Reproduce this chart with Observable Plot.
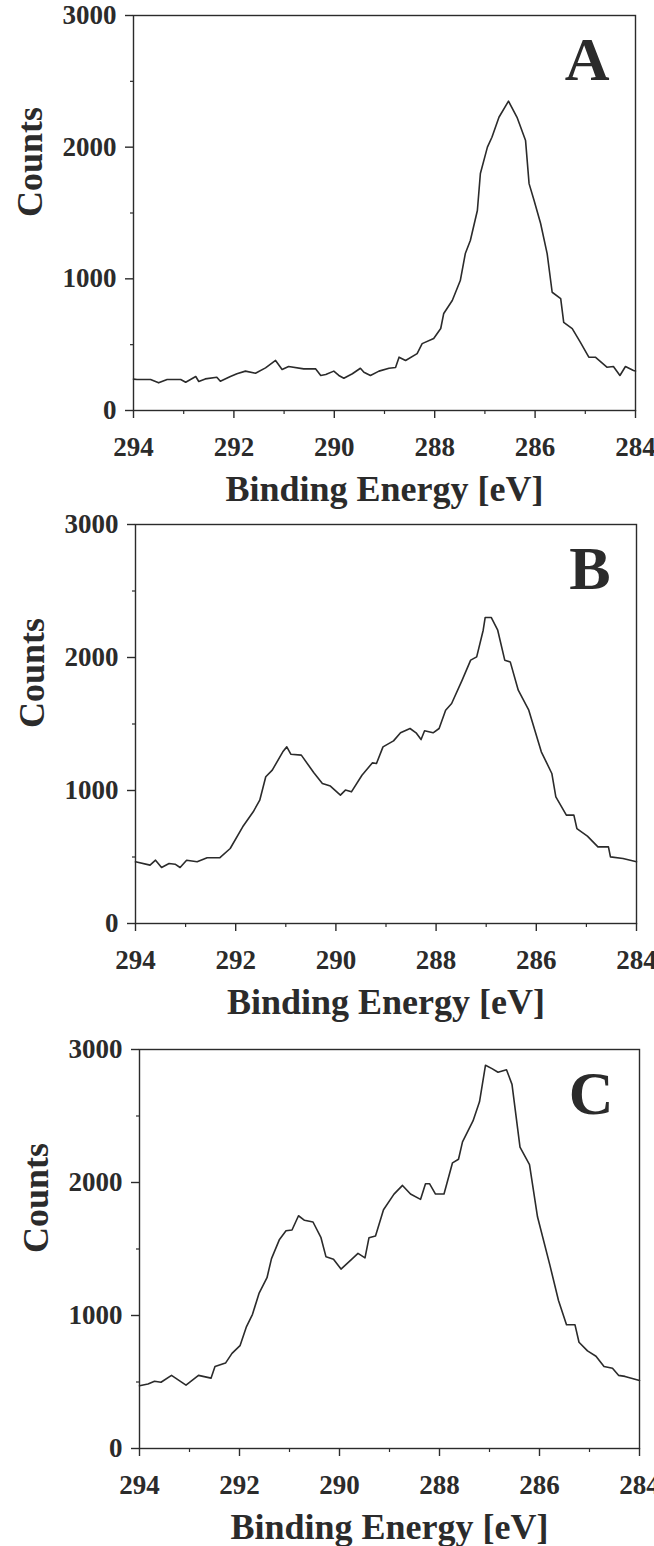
<!DOCTYPE html>
<html>
<head>
<meta charset="utf-8">
<script src="https://cdn.jsdelivr.net/npm/d3@7"></script>
<script src="https://cdn.jsdelivr.net/npm/@observablehq/plot@0.6"></script>
<style>
  html, body { margin: 0; padding: 0; background: white; }
  #chart svg { display: block; }
</style>
</head>
<body>
<div id="chart"></div>
<script>
// ---- Data ----
const xTicks = [294, 292, 290, 288, 286, 284];
const xMinorTicks = [293, 291, 289, 287, 285];
const yTicks = [0, 1000, 2000, 3000];
const yMinorTicks = [500, 1500, 2500];
const panelLetters = ["A", "B", "C"];
const xLabel = "Binding Energy [eV]";
const yLabel = "Counts";

const energyA = [294.0, 293.93, 293.66, 293.5, 293.33, 293.06, 292.96, 292.76, 292.7, 292.57, 292.34, 292.27, 292.07, 291.94, 291.77, 291.57, 291.37, 291.17, 291.04, 290.91, 290.61, 290.37, 290.27, 290.17, 290.01, 289.91, 289.81, 289.64, 289.48, 289.41, 289.28, 289.11, 288.91, 288.78, 288.71, 288.58, 288.35, 288.25, 288.02, 287.88, 287.82, 287.65, 287.49, 287.39, 287.29, 287.15, 287.09, 286.95, 286.86, 286.72, 286.53, 286.36, 286.19, 286.12, 286.02, 285.89, 285.76, 285.66, 285.49, 285.43, 285.26, 285.1, 284.93, 284.8, 284.57, 284.44, 284.31, 284.2, 284.04, 284.0];
const countsA = [238, 235, 235, 210, 235, 235, 215, 258, 220, 240, 253, 222, 258, 279, 299, 283, 324, 380, 311, 334, 316, 316, 266, 273, 299, 266, 245, 279, 321, 291, 266, 299, 321, 327, 405, 380, 432, 508, 547, 623, 737, 835, 987, 1192, 1291, 1519, 1800, 2000, 2075, 2227, 2349, 2227, 2050, 1723, 1595, 1420, 1192, 898, 850, 670, 622, 519, 405, 405, 329, 334, 266, 334, 304, 300];

const energyB = [294.0, 293.71, 293.6, 293.48, 293.33, 293.21, 293.11, 292.98, 292.77, 292.57, 292.32, 292.11, 291.86, 291.65, 291.52, 291.4, 291.27, 291.06, 290.98, 290.9, 290.69, 290.44, 290.27, 290.11, 289.91, 289.81, 289.69, 289.48, 289.27, 289.19, 289.06, 288.85, 288.71, 288.52, 288.4, 288.3, 288.23, 288.06, 287.94, 287.81, 287.69, 287.48, 287.31, 287.19, 287.06, 287.02, 286.9, 286.77, 286.63, 286.52, 286.36, 286.15, 285.9, 285.69, 285.61, 285.4, 285.25, 285.19, 284.98, 284.77, 284.56, 284.52, 284.27, 284.0];
const countsB = [464, 439, 476, 421, 451, 446, 421, 476, 464, 494, 494, 564, 727, 840, 927, 1103, 1153, 1291, 1328, 1273, 1266, 1133, 1053, 1033, 965, 1003, 990, 1115, 1208, 1203, 1328, 1373, 1434, 1466, 1434, 1383, 1449, 1434, 1466, 1604, 1654, 1830, 1980, 2005, 2205, 2301, 2301, 2205, 1980, 1967, 1754, 1604, 1291, 1128, 952, 815, 815, 714, 657, 576, 576, 501, 489, 464];

const energyC = [294.0, 293.83, 293.7, 293.57, 293.36, 293.07, 292.82, 292.57, 292.49, 292.28, 292.15, 291.99, 291.86, 291.74, 291.61, 291.45, 291.36, 291.2, 291.07, 290.95, 290.82, 290.7, 290.53, 290.37, 290.27, 290.12, 289.97, 289.78, 289.63, 289.49, 289.41, 289.28, 289.12, 288.91, 288.74, 288.58, 288.38, 288.28, 288.2, 288.08, 287.91, 287.74, 287.62, 287.54, 287.33, 287.2, 287.08, 286.95, 286.83, 286.66, 286.55, 286.39, 286.2, 286.04, 285.79, 285.62, 285.46, 285.29, 285.21, 285.04, 284.87, 284.71, 284.54, 284.42, 284.29, 284.0];
const countsC = [472, 485, 506, 498, 550, 477, 550, 529, 616, 642, 715, 773, 917, 1009, 1166, 1284, 1428, 1572, 1637, 1643, 1750, 1716, 1703, 1585, 1441, 1423, 1349, 1415, 1467, 1433, 1585, 1598, 1795, 1913, 1978, 1913, 1873, 1991, 1991, 1913, 1913, 2148, 2175, 2305, 2463, 2607, 2882, 2856, 2829, 2848, 2738, 2266, 2135, 1742, 1375, 1113, 930, 930, 799, 734, 694, 616, 603, 550, 542, 511];

// ---- Drawing ----
const ink = "#2b2b2b";
const font = "'Liberation Serif', 'Times New Roman', serif";

function panel(energy, counts, letter, m) {
  const data = energy.map((e, i) => ({e, c: counts[i]}));
  return Plot.plot({
    width: 654,
    height: m.height,
    marginTop: m.top,
    marginBottom: m.bottom,
    marginLeft: m.left,
    marginRight: m.right,
    x: {domain: [294, 284]},
    y: {domain: [0, 3000]},
    style: {fontFamily: font, background: "white", color: ink, overflow: "visible"},
    marks: [
      Plot.axisX({ticks: xTicks, tickSize: 8, tickPadding: 18, tickFormat: d => String(d), fontSize: 27, fontWeight: "bold", label: null, strokeWidth: 1.4}),
      Plot.axisX({ticks: xMinorTicks, tickSize: 4, tickFormat: () => "", label: null, strokeWidth: 1.2}),
      Plot.axisY({ticks: yTicks, tickSize: 8, tickPadding: 9, tickFormat: d => String(d), fontSize: 27, fontWeight: "bold", label: null, strokeWidth: 1.4}),
      Plot.axisY({ticks: yMinorTicks, tickSize: 3, tickFormat: () => "", label: null, strokeWidth: 1.2}),
      Plot.frame({stroke: ink, strokeWidth: 1.4}),
      Plot.line(data, {x: "e", y: "c", stroke: ink, strokeWidth: 1.6}),
      Plot.text([letter], {frameAnchor: "top-right", lineAnchor: "top", dx: -26, dy: 20, fontSize: 62, fontWeight: "bold", fill: ink}),
      Plot.text([xLabel], {frameAnchor: "bottom", lineAnchor: "bottom", dy: 90, fontSize: 36, fontWeight: "bold", fill: ink}),
      Plot.text([yLabel], {frameAnchor: "left", lineAnchor: "middle", rotate: -90, dx: -103, dy: 4, fontSize: 36, fontWeight: "bold", fill: ink})
    ]
  });
}

const chart = document.getElementById("chart");
chart.append(panel(energyA, countsA, panelLetters[0], {height: 512, top: 15, bottom: 102, left: 133, right: 19}));
chart.append(panel(energyB, countsB, panelLetters[1], {height: 518, top: 12, bottom: 107, left: 135, right: 18}));
chart.append(panel(energyC, countsC, panelLetters[2], {height: 516, top: 19, bottom: 98, left: 139, right: 15}));
</script>
</body>
</html>
